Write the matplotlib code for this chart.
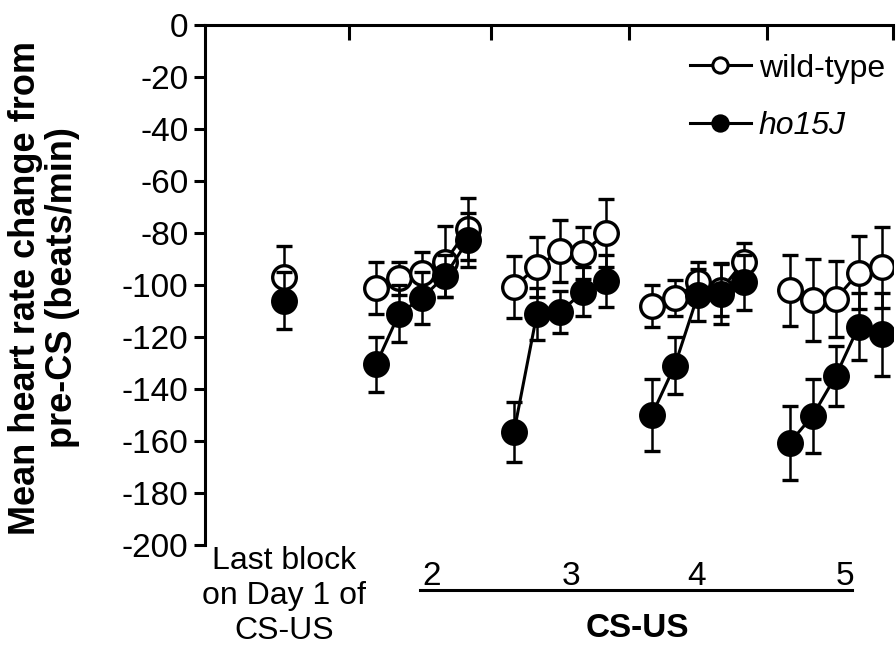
import matplotlib
matplotlib.use('Agg')
import matplotlib.pyplot as plt
from matplotlib.lines import Line2D

plt.rcParams['font.family'] = ['Liberation Sans', 'DejaVu Sans']
plt.rcParams['axes.unicode_minus'] = False

# mean heart rate change (beats/min), per block; first block = last block of day 1
wt_last = [-97]
wt_last_err = [12]
ho_last = [-106]
ho_last_err = [11]

sessions = ['2', '3', '4', '5']
wt_means = [
    [-101, -97.5, -95.5, -91, -78.5],
    [-100.7, -93, -87, -87.6, -80],
    [-108, -105, -99, -102, -91],
    [-102, -105.7, -105.4, -95.3, -93.2],
]
wt_errs = [
    [10, 6.5, 8, 13.5, 12],
    [12, 11.5, 12, 10, 13],
    [8, 7, 8, 10, 7],
    [13.6, 15.7, 14.6, 14, 15.5],
]
ho_means = [
    [-130.5, -111, -105, -96.5, -82.7],
    [-156.5, -111, -110.5, -102.6, -98.5],
    [-150, -131, -104, -103.3, -99],
    [-160.7, -150.3, -135.1, -116, -119],
]
ho_errs = [
    [10.5, 11, 10, 8, 10.5],
    [11.5, 10, 8, 9.5, 10],
    [14, 11, 10, 11.7, 10.6],
    [14.3, 14.3, 11.6, 13, 16],
]

fig = plt.figure(figsize=(8.96, 6.48), dpi=100)
ax = fig.add_axes([0.2288, 0.159, 0.7679, 0.8024])

wt_style = dict(marker='o', markersize=17, markerfacecolor='white', markeredgecolor='black',
                markeredgewidth=2.4, color='black', lw=2.2, ecolor='black', elinewidth=1.8,
                capsize=6, capthick=1.8)
ho_style = dict(wt_style, markerfacecolor='black')

# last block of day 1 sits alone on the left
ax.errorbar([-4], wt_last, yerr=wt_last_err, zorder=3, **wt_style)
ax.errorbar([-4], ho_last, yerr=ho_last_err, zorder=4, **ho_style)

for g in range(len(sessions)):
    xs = [6 * g + i for i in range(len(wt_means[g]))]
    ax.errorbar(xs, wt_means[g], yerr=wt_errs[g], zorder=3, **wt_style)
    ax.errorbar(xs, ho_means[g], yerr=ho_errs[g], zorder=4, **ho_style)

ax.set_xlim(-7.45, 22.5)
ax.set_ylim(-200, 0)
ax.set_yticks(range(-200, 1, 20))
ax.tick_params(axis='y', direction='out', length=8, width=2.2, labelsize=24, pad=4)

# x axis runs along the top (y = 0), ticks point down
ax.xaxis.set_ticks_position('top')
ax.set_xticks([-1.2, 5, 11, 17, 22.5])
ax.tick_params(axis='x', direction='in', length=11, width=2.2, labeltop=False, labelbottom=False)
ax.spines['right'].set_visible(False)
ax.spines['bottom'].set_visible(False)
ax.spines['left'].set_linewidth(2.2)
ax.spines['top'].set_linewidth(2.2)

trans = ax.get_xaxis_transform()
ax.text(-4, -0.098, 'Last block\non Day 1 of\nCS-US', transform=trans, ha='center', va='center',
        fontsize=23, linespacing=1.22)
label_x = [2.43, 8.5, 13.96, 20.4]
for lx, s in zip(label_x, sessions):
    ax.text(lx, -0.06, s, transform=trans, ha='center', va='center', fontsize=24)
ax.plot([1.9, 20.7], [-0.087, -0.087], color='black', lw=2.2, transform=trans, clip_on=False)
ax.text(11.35, -0.16, 'CS-US', transform=trans, ha='center', va='center', fontsize=24,
        fontweight='bold')

fig.text(0.049, 0.556, 'Mean heart rate change from\npre-CS (beats/min)', rotation=90,
         ha='center', va='center', fontsize=26, fontweight='bold', linespacing=1.05)

handles = [
    Line2D([], [], marker='o', markersize=11, markerfacecolor='white', markeredgecolor='black',
           markeredgewidth=2.2, color='black', lw=2.2),
    Line2D([], [], marker='o', markersize=11, markerfacecolor='black', markeredgecolor='black',
           markeredgewidth=2.2, color='black', lw=2.2),
]
leg = ax.legend(handles, ['wild-type', 'ho15J'], loc='upper left', bbox_to_anchor=(0.705, 0.945),
                frameon=False, fontsize=23, handlelength=1.9, handletextpad=0.25,
                labelspacing=0.85, borderpad=0, borderaxespad=0)
leg.get_texts()[1].set_style('italic')

fig.savefig('out.png', dpi=100)
